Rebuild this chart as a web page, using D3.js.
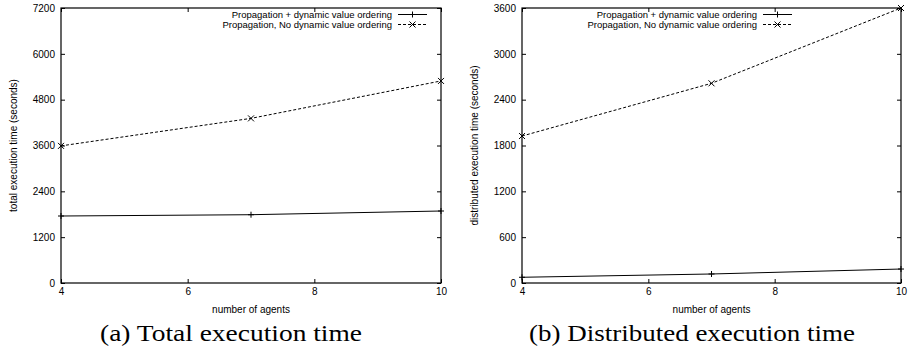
<!DOCTYPE html>
<html>
<head>
<meta charset="utf-8">
<script src="https://cdn.jsdelivr.net/npm/d3@7"></script>
<style>
  html, body { margin: 0; padding: 0; background: #fff; }
  svg { display: block; }
</style>
</head>
<body>
<svg id="chart" width="909" height="351"></svg>
<script>
// ---- data ----
const agents = [4, 7, 10];
const xTicks = [4, 6, 8, 10];
const seriesNames = ["Propagation + dynamic value ordering", "Propagation, No dynamic value ordering"];
const totalWithDVO = [1754, 1788, 1885];
const totalNoDVO = [3590, 4310, 5290];
const distWithDVO = [75, 118, 183];
const distNoDVO = [1924, 2614, 3600];
const totalTicks = [0, 1200, 2400, 3600, 4800, 6000, 7200];
const distTicks = [0, 600, 1200, 1800, 2400, 3000, 3600];
const xTitle = "number of agents";
const yTitles = ["total execution time (seconds)", "distributed execution time (seconds)"];
const captions = ["(a) Total execution time", "(b) Distributed execution time"];

const svg = d3.select("#chart");
const sans = "'Liberation Sans', Arial, Helvetica, sans-serif";
const serif = "'Liberation Serif', 'Times New Roman', serif";

const panels = [
  { left: 61, right: 441, yMax: 7200, yTicks: totalTicks, s1: totalWithDVO, s2: totalNoDVO,
    yTitle: yTitles[0], yTitleX: 13, legendEnd: 392, caption: captions[0], capX: 231, capLen: 262 },
  { left: 522, right: 901, yMax: 3600, yTicks: distTicks, s1: distWithDVO, s2: distNoDVO,
    yTitle: yTitles[1], yTitleX: 474, legendEnd: 757, caption: captions[1], capX: 692, capLen: 326 }
];
const plotTop = 8, plotBottom = 283;

function drawMarker(g, type, cx, cy) {
  const r = 3;
  if (type === "plus") {
    g.append("line").attr("x1", cx - r).attr("x2", cx + r).attr("y1", cy).attr("y2", cy);
    g.append("line").attr("x1", cx).attr("x2", cx).attr("y1", cy - r).attr("y2", cy + r);
  } else {
    g.append("line").attr("x1", cx - r).attr("x2", cx + r).attr("y1", cy - r).attr("y2", cy + r);
    g.append("line").attr("x1", cx - r).attr("x2", cx + r).attr("y1", cy + r).attr("y2", cy - r);
  }
}

panels.forEach(p => {
  const x = d3.scaleLinear().domain([4, 10]).range([p.left, p.right]);
  const y = d3.scaleLinear().domain([0, p.yMax]).range([plotBottom, plotTop]);
  const g = svg.append("g");

  const axB = g.append("g").attr("transform", `translate(0,${plotBottom})`)
    .call(d3.axisBottom(x).tickValues(xTicks).tickSize(-4).tickPadding(5).tickFormat(d3.format("d")));
  const axT = g.append("g").attr("transform", `translate(0,${plotTop})`)
    .call(d3.axisTop(x).tickValues(xTicks).tickSize(-4).tickFormat(""));
  const axL = g.append("g").attr("transform", `translate(${p.left},0)`)
    .call(d3.axisLeft(y).tickValues(p.yTicks).tickSize(-4).tickPadding(6).tickFormat(d3.format("d")));
  const axR = g.append("g").attr("transform", `translate(${p.right},0)`)
    .call(d3.axisRight(y).tickValues(p.yTicks).tickSize(-4).tickFormat(""));
  [axB, axT, axL, axR].forEach(a => {
    a.select(".domain").remove();
    a.selectAll("line").attr("stroke", "#000").attr("stroke-width", 1);
    a.selectAll("text").attr("font-family", sans).attr("font-size", 10).attr("fill", "#000");
  });

  g.append("rect").attr("x", p.left).attr("y", plotTop)
    .attr("width", p.right - p.left).attr("height", plotBottom - plotTop)
    .attr("fill", "none").attr("stroke", "#000").attr("stroke-width", 1.2);

  const line = d3.line().x((d, i) => x(agents[i])).y(d => y(d));
  g.append("path").datum(p.s1).attr("d", line)
    .attr("fill", "none").attr("stroke", "#000").attr("stroke-width", 1);
  const m1 = g.append("g").attr("stroke", "#000").attr("stroke-width", 1);
  p.s1.forEach((v, i) => drawMarker(m1, "plus", x(agents[i]), y(v)));
  g.append("path").datum(p.s2).attr("d", line)
    .attr("fill", "none").attr("stroke", "#000").attr("stroke-width", 1).attr("stroke-dasharray", "3,2");
  const m2 = g.append("g").attr("stroke", "#000").attr("stroke-width", 1);
  p.s2.forEach((v, i) => drawMarker(m2, "cross", x(agents[i]), y(v)));

  const rows = [14.5, 24.5];
  seriesNames.forEach((name, i) => {
    g.append("text").attr("x", p.legendEnd).attr("y", rows[i]).attr("dy", "0.35em")
      .attr("text-anchor", "end").attr("font-family", sans).attr("font-size", 9.5).text(name);
    const lx1 = p.legendEnd + 6, lx2 = p.legendEnd + 35;
    g.append("line").attr("x1", lx1).attr("x2", lx2).attr("y1", rows[i]).attr("y2", rows[i])
      .attr("stroke", "#000").attr("stroke-width", 1)
      .attr("stroke-dasharray", i === 0 ? null : "3,2");
    const mg = g.append("g").attr("stroke", "#000").attr("stroke-width", 1);
    drawMarker(mg, i === 0 ? "plus" : "cross", (lx1 + lx2) / 2, rows[i]);
  });

  g.append("text").attr("x", (p.left + p.right) / 2).attr("y", 309).attr("dy", "0.35em")
    .attr("text-anchor", "middle").attr("font-family", sans).attr("font-size", 10).text(xTitle);
  g.append("text").attr("transform", `translate(${p.yTitleX},${(plotTop + plotBottom) / 2}) rotate(-90)`)
    .attr("dy", "0.35em").attr("text-anchor", "middle").attr("font-family", sans).attr("font-size", 10)
    .text(p.yTitle);

  g.append("text").attr("x", p.capX).attr("y", 341).attr("text-anchor", "middle")
    .attr("font-family", serif).attr("font-size", 23)
    .attr("textLength", p.capLen).attr("lengthAdjust", "spacingAndGlyphs").text(p.caption);
});
</script>
</body>
</html>
